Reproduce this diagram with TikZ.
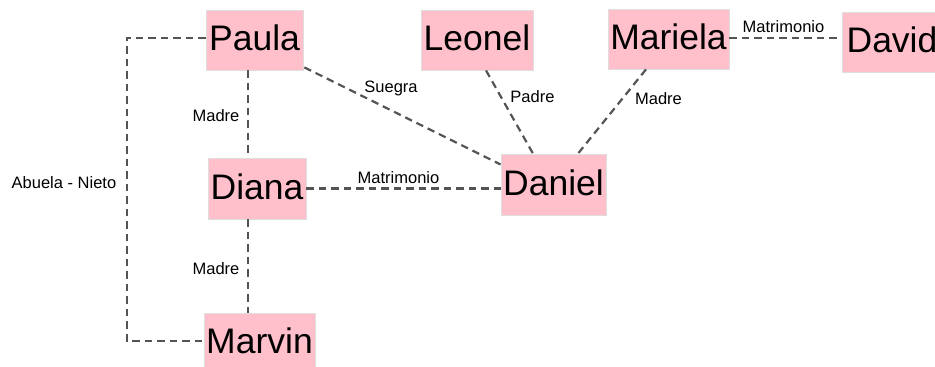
\documentclass[tikz,border=0pt]{standalone}
\usepackage{fontspec}
\setmainfont{Liberation Sans}
\begin{document}
\begin{tikzpicture}[x=1pt,y=1pt,
  person/.style={rectangle, fill={rgb,255:red,255;green,192;blue,203}, draw=black!13, line width=0.8pt,
    font=\fontsize{35.5}{40}\selectfont, inner sep=0pt, text depth=4pt, anchor=center},
  rel/.style={draw=black!67, line width=2.2pt, dash pattern=on 7.5pt off 5pt},
  lbl/.style={font=\fontsize{16.5}{19}\selectfont, inner sep=0pt}]
\useasboundingbox (0,0) rectangle (935,367);
\clip (0,0) rectangle (935,367);
% persons
\node[person, minimum width=97pt, minimum height=60pt] (Paula) at (254.5,327) {Paula};
\node[person, minimum width=112pt, minimum height=60pt] (Leonel) at (477,327) {Leonel};
\node[person, minimum width=121pt, minimum height=60pt] (Mariela) at (668.5,328) {Mariela};
\node[person, minimum width=100pt, minimum height=60pt] (David) at (892,325) {David};
\node[person, minimum width=98pt, minimum height=61pt] (Diana) at (257,178.5) {Diana};
\node[person, minimum width=105pt, minimum height=61pt] (Daniel) at (553.5,182.5) {Daniel};
\node[person, minimum width=111pt, minimum height=60pt] (Marvin) at (259.5,24) {Marvin};
% connectors
\draw[rel] ([xshift=-6.5pt]Paula.south) -- ([xshift=-6.5pt]Paula.south |- Diana.north);
\draw[rel] ([xshift=-9pt]Diana.south) -- ([xshift=-9pt]Diana.south |- Marvin.north);
\draw[rel] ([yshift=2pt]Paula.west) -- ++(-79,0) |- ([yshift=2pt]Marvin.west);
\draw[rel] ([xshift=1pt,yshift=3pt]Paula.south east) -- ([yshift=20pt]Daniel.west);
\draw[rel] ([xshift=9pt]Leonel.south) -- ([xshift=-20.5pt]Daniel.north);
\draw[rel] ([xshift=-22.5pt]Mariela.south) -- ([xshift=24.5pt]Daniel.north);
\draw[rel] (Diana.east) -- (Diana.east -| Daniel.west);
\draw[rel] ([yshift=1pt]Mariela.east) -- ([yshift=1pt]Mariela.east -| David.west);
% labels
\node[lbl] (lMadre1) at (216,251) {Madre};
\node[lbl] (lMadre2) at (216,98) {Madre};
\node[lbl] (lAbuela) at (64,184) {Abuela - Nieto};
\node[lbl] (lSuegra) at (391,279) {Suegra};
\node[lbl] (lPadre) at (532.5,270) {Padre};
\node[lbl] (lMadre3) at (658.5,268) {Madre};
\node[lbl] (lMat1) at (398.5,189) {Matrimonio};
\node[lbl] (lMat2) at (783.5,340) {Matrimonio};
\end{tikzpicture}
\end{document}
